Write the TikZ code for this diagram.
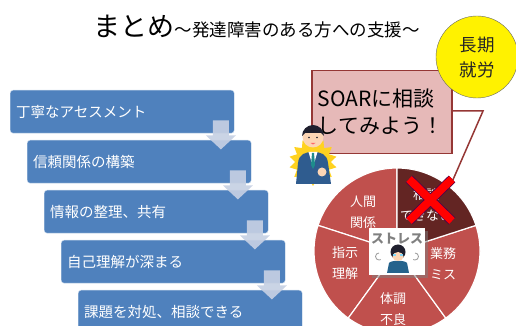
\documentclass[tikz,border=0pt]{standalone}
\usepackage{fontspec}
\setmainfont{Noto Sans CJK JP}
\usetikzlibrary{calc,shapes.geometric,shadows}

\definecolor{flowblue}{HTML}{4F81BD}
\definecolor{arrowgray}{HTML}{C6D0E3}
\definecolor{piered}{HTML}{C0504D}
\definecolor{piedark}{HTML}{632523}
\definecolor{calloutfill}{HTML}{E6B9B8}
\definecolor{calloutline}{HTML}{953735}
\definecolor{burstyellow}{HTML}{FFD21F}
\definecolor{suitblue}{HTML}{2F5C8F}
\definecolor{skin}{HTML}{FCD5B5}
\definecolor{hairdark}{HTML}{1F1F2E}
\definecolor{tieteal}{HTML}{1E8C8C}

\tikzset{
  stepbox/.style={fill=flowblue, draw=white!70!flowblue, rounded corners=3pt,
    minimum width=224pt, minimum height=43pt, text width=212pt, inner xsep=6pt,
    anchor=north west, align=left, text=white, font=\fontsize{14.5}{16}\selectfont},
  flowarrow/.style={fill=arrowgray, fill opacity=0.92},
  slice/.style={fill=piered, draw=white, line width=1.2pt},
  slicetext/.style={text=white, align=center, font=\fontsize{13}{21}\selectfont},
}

\begin{document}
\begin{tikzpicture}[x=1pt,y=1pt]
\useasboundingbox (0,0) rectangle (516,326);

% title
\node[anchor=base west, inner sep=0, font=\fontsize{27}{30}\selectfont] (title) at (93,289) {まとめ};
\node[anchor=base west, inner sep=0, font=\fontsize{17.5}{20}\selectfont] (subtitle) at (title.base east) {～発達障害のある方への支援～};

% steps
\node[stepbox] (s1) at (10,236) {丁寧なアセスメント};
\node[stepbox] (s2) at (27,186) {信頼関係の構築};
\node[stepbox] (s3) at (44,136) {情報の整理、共有};
\node[stepbox] (s4) at (61,86) {自己理解が深まる};
\node[stepbox] (s5) at (78,36) {課題を対処、相談できる};

% arrows between steps
\fill[flowarrow] ($(s1.south east)+(-21.5,13)$) -- ++(16,0) -- ++(0,-15) -- ++(7,0) -- ++(-15,-14) -- ++(-15,14) -- ++(7,0) -- cycle;
\fill[flowarrow] ($(s2.south east)+(-21.5,13)$) -- ++(16,0) -- ++(0,-15) -- ++(7,0) -- ++(-15,-14) -- ++(-15,14) -- ++(7,0) -- cycle;
\fill[flowarrow] ($(s3.south east)+(-21.5,13)$) -- ++(16,0) -- ++(0,-15) -- ++(7,0) -- ++(-15,-14) -- ++(-15,14) -- ++(7,0) -- cycle;
\fill[flowarrow] ($(s4.south east)+(-21.5,13)$) -- ++(16,0) -- ++(0,-15) -- ++(7,0) -- ++(-15,-14) -- ++(-15,14) -- ++(7,0) -- cycle;

% pie
\coordinate (pie) at (397,75);
\filldraw[slice] (pie) -- ++(90:83) arc[start angle=90, end angle=162, radius=83] -- cycle;
\filldraw[slice] (pie) -- ++(162:83) arc[start angle=162, end angle=234, radius=83] -- cycle;
\filldraw[slice] (pie) -- ++(234:83) arc[start angle=234, end angle=306, radius=83] -- cycle;
\filldraw[slice] (pie) -- ++(306:83) arc[start angle=306, end angle=378, radius=83] -- cycle;
\filldraw[slice, fill=piedark, shift={(54:6)}] (pie) -- ++(18:83) arc[start angle=18, end angle=90, radius=83] -- cycle;

\node[slicetext] (rel) at (363,113.5) {人間\\関係};
\node[slicetext] (order) at (345,62.5) {指示\\理解};
\node[slicetext] (health) at (393,16.5) {体調\\不良};
\node[slicetext] (work) at (443,62.5) {業務\\ミス};
\node[slicetext] (talk) at (426,121) {相談\\できない};

% callout
\node[fill=calloutfill, draw=calloutline, line width=1.5pt, anchor=north west,
  minimum width=140pt, minimum height=83pt, text width=128pt, inner xsep=6pt,
  align=left, font=\fontsize{21}{27}\selectfont] (soar) at (311,256) {SOARに相談\\してみよう！};
\coordinate (bend) at (483,215);
\coordinate (tip) at (452,144);
\draw[calloutline, line width=1.5pt, line join=miter] (soar.east |- bend) -- (bend) -- (tip);

% businessman
\node[star, star points=14, star point ratio=1.35, fill=burstyellow, minimum size=48pt, inner sep=0] (burst) at (313,164) {};
\fill[suitblue] (296,142) -- (298,163) .. controls (299,172) and (305,174) .. (313,174) .. controls (321,174) and (327,172) .. (328,163) -- (331,142) -- cycle;
\fill[white] (308.5,174) -- (317.5,174) -- (313,159) -- cycle;
\fill[tieteal] (312,173) -- (314,173) -- (315,161) -- (313,157) -- (311,161) -- cycle;
\fill[skin] (322,154) circle (4.5);
\fill[skin] (313,189) circle (10.5);
\fill[hairdark] (302,190) arc[start angle=180, end angle=0, radius=11] -- (321,193) -- (305,193) -- cycle;
\fill[hairdark] (309,188.5) circle (0.9) (317,188.5) circle (0.9);
\fill[red!60] (310.5,183) -- (315.5,183) -- (313,181.5) -- cycle;

% stress picture
\node[fill=white, minimum width=56pt, minimum height=47pt, inner sep=0, drop shadow] (stress) at (397,74.5) {};
\node[text=black!50, font=\bfseries\fontsize{13}{14}\selectfont, inner sep=0] (stresstext) at (397,87) {ストレス};
\draw[black!40, line width=0.8pt] (379,73) arc[start angle=90, end angle=300, radius=3.5] (415,73) arc[start angle=90, end angle=-120, radius=3.5];
\fill[suitblue!80!teal] (387,53) -- (389,63) .. controls (391,66) and (405,66) .. (407,63) -- (409,53) -- cycle;
\fill[hairdark] (398,74) circle (7.5);
\fill[skin] (398,69.5) ellipse (5.5 and 4.5);
\draw[cyan!50, line width=1.2pt] (393,71) -- (396,71) (400,71) -- (403,71);

% red cross
\draw[line width=9.5pt, violet!60!black] (409,147) -- (452,105) (409,105) -- (452,147);
\draw[line width=8pt, red] (409,147) -- (452,105) (409,105) -- (452,147);

% goal circle
\node[circle, fill=yellow, draw=black!60, minimum size=82pt, inner sep=0, align=center,
  text=black!85, font=\fontsize{17.5}{25}\selectfont] (goal) at (477,269) {長期\\就労};
\end{tikzpicture}
\end{document}
